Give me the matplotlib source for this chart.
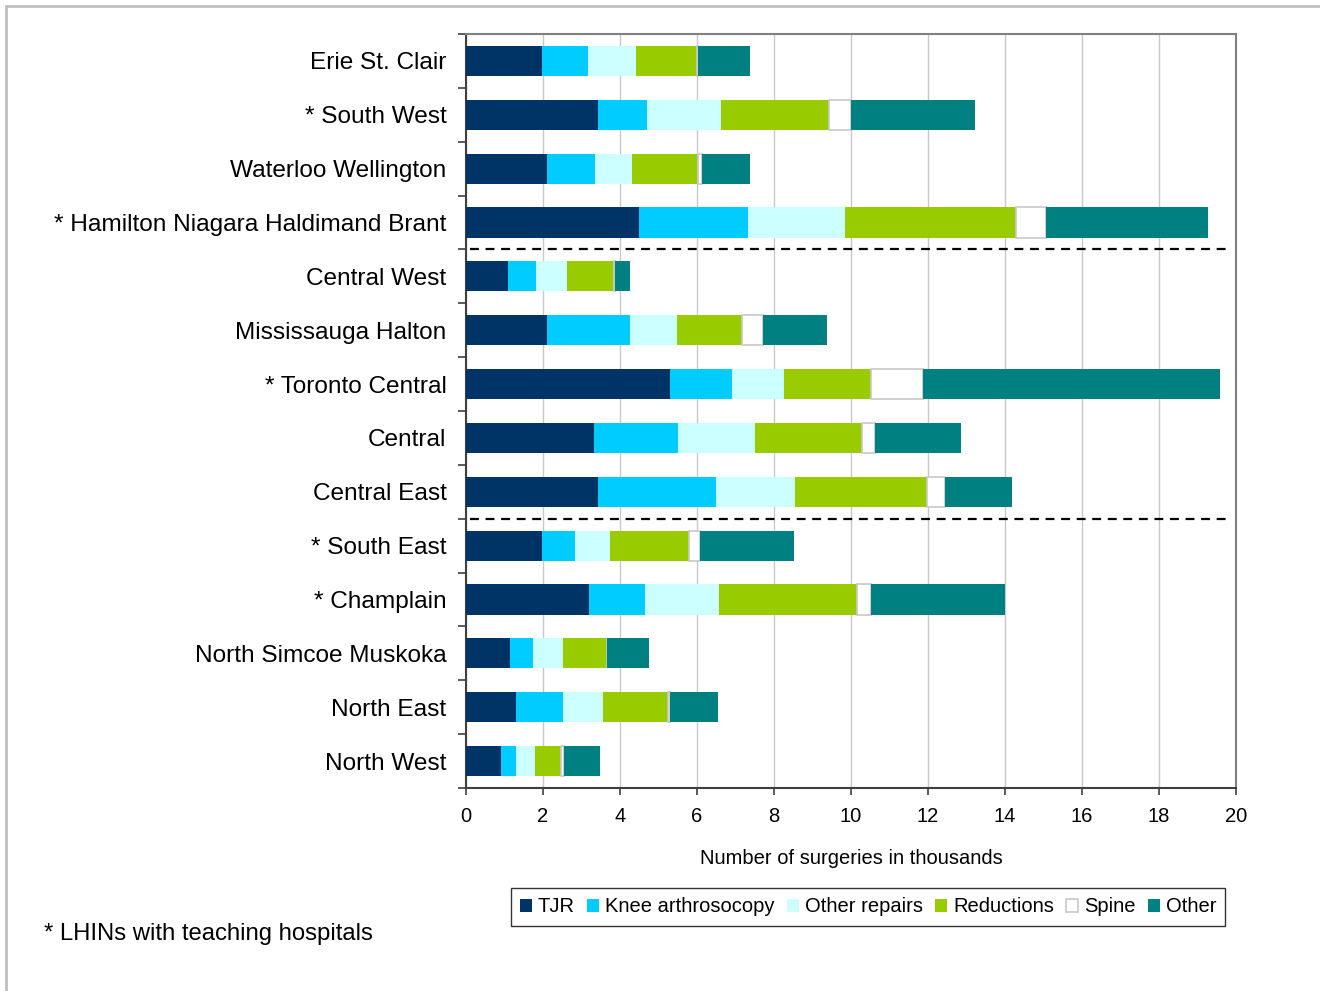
import numpy as np
import matplotlib
matplotlib.use("Agg")
import matplotlib.pyplot as plt
from matplotlib.patches import Rectangle

plt.rcParams['font.family'] = ['Liberation Sans', 'DejaVu Sans']

regions = ["Erie St. Clair", "* South West", "Waterloo Wellington",
           "* Hamilton Niagara Haldimand Brant", "Central West",
           "Mississauga Halton", "* Toronto Central", "Central",
           "Central East", "* South East", "* Champlain",
           "North Simcoe Muskoka", "North East", "North West"]

tjr = [1.97, 3.44, 2.11, 4.49, 1.08, 2.11, 5.30, 3.32, 3.44, 1.97, 3.19, 1.13, 1.29, 0.92]
knee = [1.19, 1.27, 1.24, 2.83, 0.73, 2.14, 1.61, 2.18, 3.05, 0.87, 1.46, 0.62, 1.22, 0.37]
other_repairs = [1.25, 1.92, 0.95, 2.53, 0.81, 1.22, 1.35, 2.00, 2.06, 0.89, 1.92, 0.76, 1.04, 0.49]
reductions = [1.58, 2.80, 1.73, 4.44, 1.22, 1.70, 2.27, 2.79, 3.43, 2.06, 3.58, 1.14, 1.70, 0.68]
spine = [0.03, 0.56, 0.09, 0.77, 0.04, 0.55, 1.34, 0.33, 0.45, 0.28, 0.38, 0.01, 0.05, 0.09]
other = [1.35, 3.24, 1.25, 4.21, 0.37, 1.66, 7.72, 2.25, 1.74, 2.46, 3.48, 1.09, 1.25, 0.92]

series = [("TJR", tjr, "#003366"),
          ("Knee arthrosocopy", knee, "#00CCFF"),
          ("Other repairs", other_repairs, "#CCFFFF"),
          ("Reductions", reductions, "#99CC00"),
          ("Spine", spine, "#FFFFFF"),
          ("Other", other, "#008080")]

fig = plt.figure(figsize=(13.2, 9.91), dpi=100)
ax = fig.add_axes([466/1320, 1 - 788/991, 770/1320, 754/991])

y = np.arange(len(regions))
left = np.zeros(len(regions))
handles = []
for name, vals, col in series:
    vals = np.array(vals)
    if name == "Spine":
        b = ax.barh(y, vals, left=left, height=0.56, color=col,
                    edgecolor="#C8C8C8", linewidth=1.2, label=name, zorder=3)
    else:
        b = ax.barh(y, vals, left=left, height=0.56, color=col,
                    linewidth=0, label=name, zorder=3)
    handles.append(b)
    left += vals

ax.set_xlim(0, 20)
ax.set_ylim(len(regions) - 0.5, -0.5)
ax.set_xticks(np.arange(0, 21, 2))
ax.xaxis.grid(True, color="#C8C8C8", linewidth=1)
ax.set_axisbelow(True)

ax.set_yticks(y)
ax.set_yticklabels(regions, fontsize=17.6)
ax.set_yticks(np.arange(-0.5, len(regions)), minor=True)
ax.tick_params(axis="y", which="major", length=0, pad=14)
ax.tick_params(axis="y", which="minor", length=6, width=1.2, color="#404040")
ax.tick_params(axis="x", length=5, width=1.2, color="#404040", labelsize=14.5, pad=9)

for side in ["left", "bottom"]:
    ax.spines[side].set_color("#404040")
    ax.spines[side].set_linewidth(1.5)
for side in ["top", "right"]:
    ax.spines[side].set_color("#808080")
    ax.spines[side].set_linewidth(1.5)

for yb in [3.5, 8.5]:
    ax.axhline(yb, xmin=0.005, xmax=0.995, color="black", linestyle=(0, (4, 3)),
               linewidth=1.6, zorder=4)

ax.set_xlabel("Number of surgeries in thousands", fontsize=14.5, labelpad=16)

leg = fig.legend(handles=handles, loc="center", ncol=6,
                 bbox_to_anchor=(868/1320, 1 - 907/991), fontsize=14.5,
                 frameon=True, fancybox=False, edgecolor="black",
                 handlelength=0.6, handleheight=0.6, handletextpad=0.3,
                 columnspacing=0.6, borderpad=0.45, borderaxespad=0)
leg.get_frame().set_linewidth(1.0)

fig.text(44/1320, 1 - 934/991, "* LHINs with teaching hospitals",
         fontsize=17.2, va="center", ha="left")

fig.patches.append(Rectangle((6/1320, -0.1), 1.2, 1 - 6/991 + 0.1,
                             transform=fig.transFigure, fill=False,
                             edgecolor="#C0C0C0", linewidth=2))

fig.savefig("out.png", dpi=100)
